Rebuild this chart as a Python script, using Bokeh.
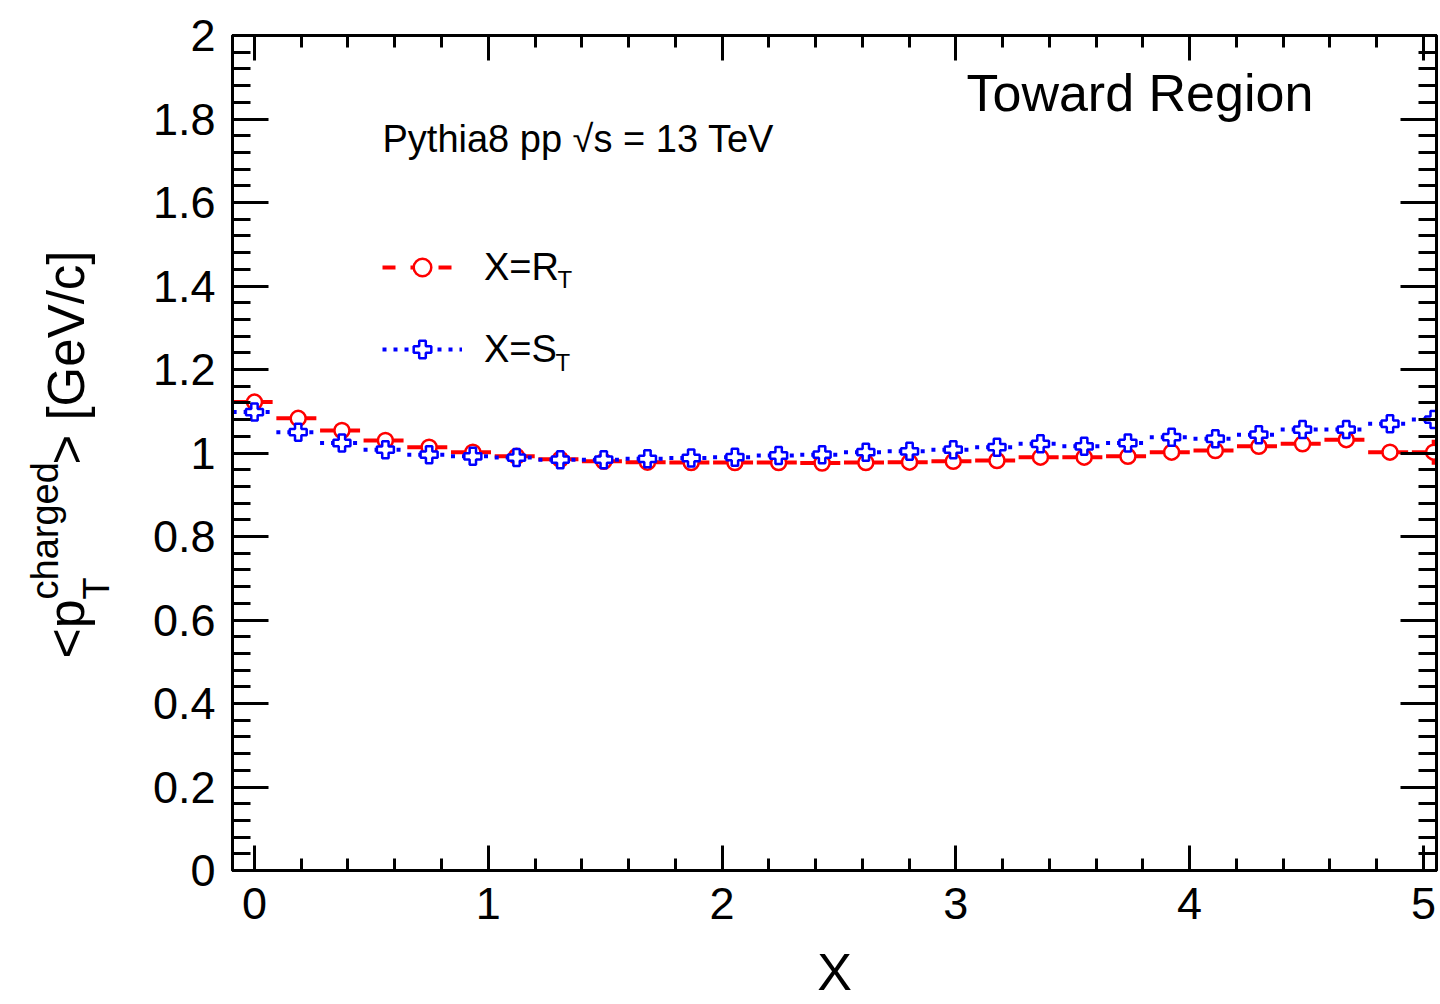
import numpy as np
from bokeh.plotting import figure
from bokeh.layouts import row
from bokeh.models import (Label, Legend, LegendItem, LinearAxis, SingleIntervalTicker,
                          CustomJSTickFormatter, Range1d, ColumnDataSource)
from bokeh.embed import file_html
from bokeh.resources import INLINE

# ---------------- data ----------------
x_centers = [0.000, 0.187, 0.374, 0.560, 0.747, 0.934, 1.121, 1.308, 1.494, 1.681,
             1.868, 2.055, 2.242, 2.428, 2.615, 2.802, 2.989, 3.176, 3.362, 3.549,
             3.736, 3.923, 4.110, 4.296, 4.483, 4.670, 4.857, 5.044]
bin_half_width = 0.0934
mean_pt_rt = [1.122, 1.083, 1.054, 1.030, 1.014, 1.002, 0.992, 0.985, 0.980, 0.978,
              0.977, 0.977, 0.977, 0.976, 0.977, 0.978, 0.980, 0.982, 0.990, 0.990,
              0.992, 1.002, 1.006, 1.016, 1.022, 1.032, 1.002, 1.002]
mean_pt_rt_err = [0, 0, 0, 0, 0, 0, 0, 0, 0, 0, 0, 0, 0, 0, 0, 0, 0, 0, 0, 0,
                  0, 0, 0, 0, 0, 0, 0, 0.03]
mean_pt_st = [1.098, 1.050, 1.024, 1.008, 0.996, 0.992, 0.989, 0.984, 0.984, 0.986,
              0.988, 0.990, 0.994, 0.996, 1.002, 1.004, 1.008, 1.014, 1.022, 1.016,
              1.024, 1.038, 1.034, 1.044, 1.056, 1.056, 1.070, 1.080]
x_ticks_interval = 1
y_ticks_interval = 0.2

FONT = "Liberation Sans"
BASE = 0.38  # Bokeh's alphabetic-baseline offset (fraction of font size)

x = np.array(x_centers)
rt = np.array(mean_pt_rt)
rte = np.array(mean_pt_rt_err)
st = np.array(mean_pt_st)

src_rt = ColumnDataSource(dict(x=x, y=rt, x0=x - bin_half_width, x1=x + bin_half_width,
                               ylo=rt - rte, yhi=rt + rte))
src_st = ColumnDataSource(dict(x=x, y=st, x0=x - bin_half_width, x1=x + bin_half_width))

LEFT_W = 120
TOP, BOTTOM = 35, 870

# ---------------- main figure ----------------
X0, X1 = -0.094, 5.056
p = figure(width=1440 - LEFT_W, height=1004, output_backend="svg", toolbar_location=None,
           x_range=Range1d(X0, X1), y_range=Range1d(0, 2),
           min_border_left=232 - LEFT_W, min_border_right=4, min_border_top=TOP,
           min_border_bottom=1004 - BOTTOM)
p.grid.visible = False
p.background_fill_color = "white"
p.border_fill_color = "white"
p.outline_line_color = "black"
p.outline_line_width = 3

xt = SingleIntervalTicker(interval=x_ticks_interval, num_minor_ticks=5)
yt = SingleIntervalTicker(interval=y_ticks_interval, num_minor_ticks=5)
yfmt = CustomJSTickFormatter(code="return (Math.abs(tick - Math.round(tick)) < 1e-9) ? tick.toFixed(0) : tick.toFixed(1);")
blank = CustomJSTickFormatter(code="return '';")


def style_axis(ax, maj, mnr, labels=True):
    ax.axis_line_width = 3
    ax.axis_line_color = "black"
    ax.major_tick_in = maj
    ax.major_tick_out = 0
    ax.minor_tick_in = mnr
    ax.minor_tick_out = 0
    ax.major_tick_line_width = 3
    ax.minor_tick_line_width = 3
    ax.major_label_text_font = FONT
    if labels:
        ax.major_label_text_font_size = "45px"
        ax.major_label_text_color = "black"
    else:
        ax.formatter = blank
        ax.major_label_text_font_size = "1px"
        ax.major_label_standoff = 0


p.xaxis.ticker = xt
p.yaxis.ticker = yt
p.yaxis.formatter = yfmt
style_axis(p.xaxis[0], 25, 12)
style_axis(p.yaxis[0], 36, 18)
p.xaxis.major_label_standoff = 17
p.yaxis.major_label_standoff = 17
p.xaxis.axis_label = "X"
p.xaxis.axis_label_text_font = FONT
p.xaxis.axis_label_text_font_size = "52px"
p.xaxis.axis_label_text_font_style = "normal"
p.xaxis.axis_label_text_color = "black"
p.xaxis.axis_label_standoff = 21

top = LinearAxis(ticker=xt)
style_axis(top, 25, 12, labels=False)
p.add_layout(top, "above")
right = LinearAxis(ticker=yt)
style_axis(right, 36, 18, labels=False)
p.add_layout(right, "right")

# ---------------- data glyphs ----------------
p.segment("x0", "y", "x1", "y", source=src_rt, line_color="red", line_width=4, line_dash="40 4")
p.segment("x", "ylo", "x", "yhi", source=src_rt, line_color="red", line_width=4)
p.scatter("x", "y", source=src_rt, marker="circle", size=15, line_color="red",
          line_width=2.5, fill_color="white")

p.segment("x0", "y", "x1", "y", source=src_st, line_color="blue", line_width=4, line_dash="4 7")
p.scatter("x", "y", source=src_st, marker="plus", size=17, line_color="blue",
          line_width=2.5, fill_color="white")

# ---------------- legend (sample-only renderers, no visible data) ----------------
nan = [float("nan")]
lr_line = p.line(x=nan, y=nan, line_color="red", line_width=4, line_dash="13 15")
lr_mark = p.scatter(x=nan, y=nan, marker="circle", size=15, line_color="red", line_width=2.5, fill_color="white")
ls_line = p.line(x=nan, y=nan, line_color="blue", line_width=4, line_dash="4 7")
ls_mark = p.scatter(x=nan, y=nan, marker="plus", size=17, line_color="blue", line_width=2.5, fill_color="white")
legend = Legend(items=[LegendItem(label="X=R", renderers=[lr_line, lr_mark]),
                       LegendItem(label="X=S", renderers=[ls_line, ls_mark])],
                location=(150, 499), orientation="vertical",
                glyph_width=80, glyph_height=44, label_height=44, label_standoff=22,
                spacing=38, padding=0, margin=0,
                border_line_alpha=0, background_fill_alpha=0,
                label_text_font=FONT, label_text_font_size="38px",
                label_text_color="black")
p.add_layout(legend, "center")


# ---------------- texts in the main frame ----------------
def dx(sx):
    return X0 + (sx - 232) / 233.8


def dy(sy):
    return (BOTTOM - sy) / 417.5


def lab(text, sx, sy, size):
    p.add_layout(Label(x=dx(sx), y=dy(sy - BASE * size), text=text, text_font=FONT,
                       text_font_size=f"{size}px", text_color="black",
                       text_align="left", text_baseline="alphabetic"))


lab("T", 557, 288, 24)
lab("T", 555, 371, 24)
lab("Toward Region", 966, 112, 52)
lab("Pythia8 pp √s = 13 TeV", 382, 153, 38)

# ---------------- left strip with the rotated y-axis title ----------------
# its frame is aligned with the main frame (screen rows TOP..BOTTOM), so the
# y range is expressed directly in screen pixels
pl = figure(width=LEFT_W, height=1004, output_backend="svg", toolbar_location=None,
            x_range=Range1d(0, LEFT_W), y_range=Range1d(BOTTOM, TOP),
            x_axis_location=None, y_axis_location=None,
            min_border_left=0, min_border_right=0, min_border_top=TOP,
            min_border_bottom=1004 - BOTTOM)
pl.grid.visible = False
pl.outline_line_color = None
pl.background_fill_color = "white"
pl.border_fill_color = "white"


def vlab(text, base_x, start_y, size):
    pl.add_layout(Label(x=base_x - 0.28 * size, y=start_y, text=text, text_font=FONT,
                        text_font_size=f"{size}px", text_color="black", angle=np.pi / 2,
                        text_align="left", text_baseline="alphabetic"))


vlab("<p", 80, 658, 52)
vlab("T", 106, 599, 36)
vlab("charged", 55, 599, 38)
vlab("> [GeV/c]", 80, 464, 51)

layout = row(pl, p, spacing=0)
open("out.html", "w").write(file_html(layout, INLINE))
